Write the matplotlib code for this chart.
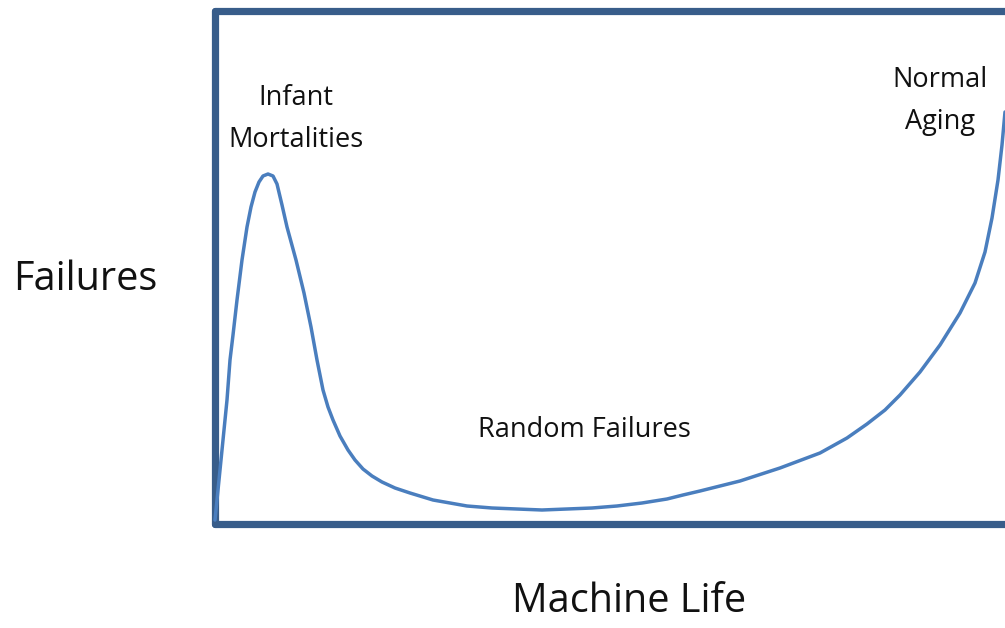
"""Bathtub curve: machine failures over machine life (conceptual sketch)."""
import matplotlib
matplotlib.use("Agg")
import matplotlib.pyplot as plt

# Curve (arbitrary units: life along x, failures along y)
life = [0, 4, 8, 12, 15, 18, 22, 27, 32, 36,
        40, 44, 48, 53, 58, 62, 67, 72, 81, 89,
        96, 102, 108, 113, 118, 125, 133, 140, 148, 157,
        167, 180, 195, 218, 235, 252, 277, 302, 327, 352,
        377, 402, 427, 452, 468, 485, 505, 525, 565, 605,
        632, 652, 670, 685, 705, 725, 745, 760, 770, 777,
        783, 787, 790]
failures = [0, 40, 80, 120, 160, 185, 220, 260, 293, 313,
            328, 338, 344, 346, 344, 336, 315, 293, 260, 227,
            193, 160, 130, 113, 100, 84, 70, 60, 51, 44,
            38, 32, 27, 20, 17, 14, 12, 11, 10, 11,
            12, 14, 17, 21, 25, 29, 34, 39, 52, 67,
            82, 96, 110, 125, 148, 175, 207, 237, 268, 302,
            340, 375, 408]

phase_labels = ["Infant\nMortalities", "Random Failures", "Normal\nAging"]
phase_pos = [(296, 119), (584, 430), (940, 101)]   # pixel centres on the canvas

FRAME = "#385D8A"
CURVE = "#4A7EBE"
FONT = ["Open Sans", "DejaVu Sans"]

W, H = 1005, 628
fig = plt.figure(figsize=(W / 100, H / 100), dpi=100)
fig.patch.set_facecolor("white")

# axes box: left/bottom frame lines centred at x=214.5, y=524, top at y=11; right edge off-canvas
x0, x1, ytop, ybot = 214.5, 1015, 11, 524
ax = fig.add_axes([x0 / W, 1 - ybot / H, (x1 - x0) / W, (ybot - ytop) / H])
ax.set_xlim(-0.5, 800)
ax.set_ylim(-4, 509)
ax.set_xticks([])
ax.set_yticks([])
for sp in ax.spines.values():
    sp.set_color(FRAME)
    sp.set_linewidth(5.2)
    sp.set_capstyle("round")
    sp.set_joinstyle("round")

ax.plot(life, failures, color=CURVE, lw=2.5, solid_joinstyle="round",
        solid_capstyle="round", clip_on=False, zorder=3)


def px(x, y):
    return x / W, 1 - y / H


for lab, (x, y) in zip(phase_labels, phase_pos):
    fig.text(*px(x, y), lab, ha="center", va="center", fontsize=19.5,
             family=FONT, color="#111111", linespacing=1.7)

fig.text(*px(85, 280), "Failures", ha="center", va="center", fontsize=28.5,
         family=FONT, color="#111111")
fig.text(*px(629, 602), "Machine Life", ha="center", va="center", fontsize=28.5,
         family=FONT, color="#111111")

fig.savefig("out.png", dpi=100, facecolor="white")
